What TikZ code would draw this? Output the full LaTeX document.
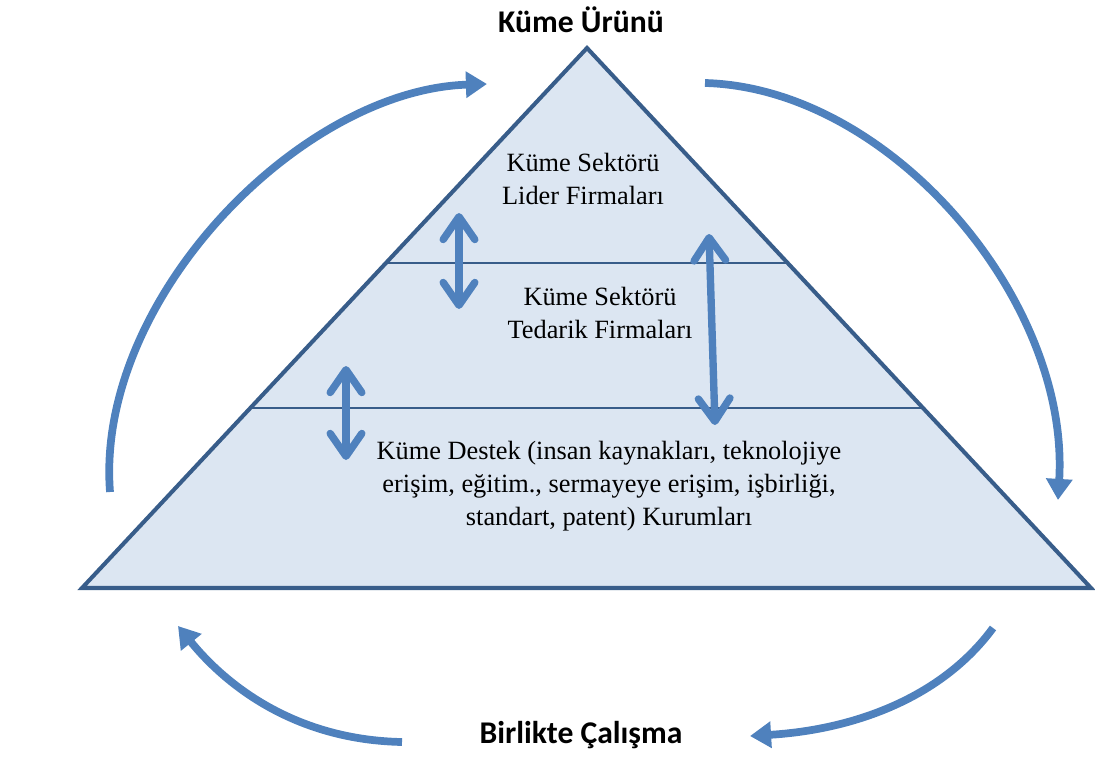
\documentclass[tikz,border=0pt]{standalone}
\usepackage{fontspec}
\setmainfont{Liberation Serif}
\newfontfamily\headfont{Carlito}
\usetikzlibrary{arrows.meta}
\definecolor{pyrfill}{HTML}{DCE6F2}
\definecolor{pyredge}{HTML}{385D8A}
\definecolor{flowblue}{HTML}{4F81BD}
\tikzset{
  levellabel/.style={
    align=center,
    inner sep=0pt,
    font=\fontsize{15}{18.7}\selectfont
  },
  headlabel/.style={
    inner sep=0pt,
    font=\headfont\bfseries\fontsize{18}{22}\selectfont
  },
  cycleflow/.style={
    -{Triangle[length=12pt,width=14.5pt]},
    line width=4.4pt,
    draw=flowblue
  },
  linkflow/.style={
    {Straight Barb[length=13pt,width=18pt,line cap=round,line join=round]}-{Straight Barb[length=13pt,width=18pt,line cap=round,line join=round]},
    line width=4.2pt,
    draw=flowblue
  },
  levelline/.style={draw=pyredge,line width=1.1pt}
}
\begin{document}
\begin{tikzpicture}[x=0.02cm,y=-0.02cm]
    \useasboundingbox (0,0) rectangle (1095,757);

    % pyramid
    \coordinate (apex) at (587,48);
    \coordinate (baseL) at (82,588);
    \coordinate (baseR) at (1091,588);
    \fill[pyrfill] (apex) -- (baseL) -- (baseR) -- cycle;
    \draw[levelline] (386,263) coordinate (cutAL) -- (788,263) coordinate (cutAR);
    \draw[levelline] (250,408) coordinate (cutBL) -- (923,408) coordinate (cutBR);
    \draw[draw=pyredge,line width=2.3pt,line join=miter] (apex) -- (baseL) -- (baseR) -- cycle;

    \node[levellabel] (leaders) at (583,179) {Küme Sektörü\\Lider Firmaları};
    \node[levellabel] (suppliers) at (600,313) {Küme Sektörü\\Tedarik Firmaları};
    \node[levellabel] (support) at (609,486) {
      Küme Destek (insan kaynakları, teknolojiye\\
      erişim, eğitim., sermayeye erişim, işbirliği,\\
      standart, patent) Kurumları};

    \node[headlabel] (product) at (581,20) {Küme Ürünü};
    \node[headlabel] (together) at (581,735) {Birlikte Çalışma};

    % links between levels
    \coordinate (linkAtop) at (459,213);
    \coordinate (linkAbot) at (459,309);
    \coordinate (linkBtop) at (346,366);
    \coordinate (linkBbot) at (346,460);
    \coordinate (linkCtop) at (709,234);
    \coordinate (linkCbot) at (715,425);
    \draw[linkflow] (linkAtop) -- (linkAbot);
    \draw[linkflow] (linkBtop) -- (linkBbot);
    \draw[linkflow] (linkCtop) -- (linkCbot);

    % cycle around the pyramid
    \coordinate (leftfoot) at (110,492);
    \coordinate (topleft) at (487,84);
    \coordinate (topright) at (705,83);
    \coordinate (rightfoot) at (1058,500);
    \coordinate (lowright) at (993,628);
    \coordinate (lowmid) at (750,736);
    \coordinate (lowleft) at (402,742);
    \coordinate (lowcorner) at (178,626);
    \draw[cycleflow] (leftfoot) .. controls (95,300) and (300,90) .. (topleft);
    \draw[cycleflow] (topright) .. controls (890,88) and (1070,300) .. (rightfoot);
    \draw[cycleflow] (lowright) .. controls (940,700) and (850,730) .. (lowmid);
    \draw[cycleflow] (lowleft) .. controls (300,740) and (230,690) .. (lowcorner);
  \end{tikzpicture}
\end{document}
